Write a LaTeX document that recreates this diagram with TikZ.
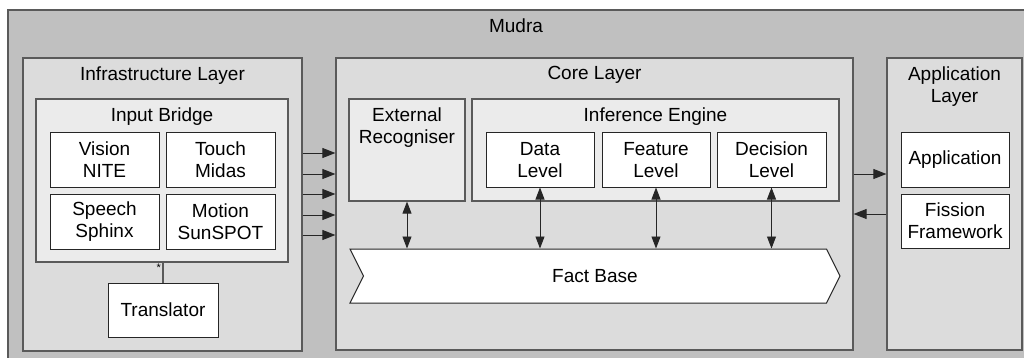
\documentclass[tikz,border=0pt]{standalone}
\usepackage{fontspec}
\setmainfont{Liberation Sans}
\usetikzlibrary{positioning, arrows.meta, shapes.symbols}

\definecolor{mudragray}{HTML}{C0C0C0}
\definecolor{layergray}{HTML}{DCDCDC}
\definecolor{groupgray}{HTML}{EBEBEB}
\definecolor{edgegray}{HTML}{5A5A5A}

\tikzset{
  framebox/.style={draw=edgegray, line width=1.2pt, inner sep=0pt},
  layerbox/.style={framebox, fill=layergray},
  groupbox/.style={framebox, fill=groupgray},
  leafbox/.style={draw=black!85, line width=1pt, fill=white, align=center, inner sep=0pt},
  titletext/.style={inner sep=3pt, align=center},
  flow/.style={line width=0.9pt, draw=black!85, -{Triangle[length=13pt,width=10pt]}},
  sync/.style={line width=0.9pt, draw=black!85, {Triangle[length=12pt,width=9pt]}-{Triangle[length=12pt,width=9pt]}},
}

\begin{document}
\begin{tikzpicture}[x=1pt, y=-1pt, font=\fontsize{19}{22}\selectfont]
    \useasboundingbox (0,0) rectangle (1024,358);

    % 1. Mudra background (runs off the right and bottom edge)
    \fill[mudragray] (8,10) rectangle (1024,358);
    \draw[edgegray, line width=1.2pt] (8,358) -- (8,10) -- (1024,10);
    \node[titletext] (mudra) at (516,26) {Mudra};

    % 2. Infrastructure layer
    \node[layerbox, minimum width=279, minimum height=293] (infra) at (162.5,204.5) {};
    \node[titletext, below=6pt of infra.north] (infratitle) {Infrastructure Layer};
    \node[groupbox, minimum width=252, minimum height=163] (bridge) at (162,180.5) {};
    \node[titletext, below=6pt of bridge.north] (bridgetitle) {Input Bridge};
    \node[leafbox, minimum width=109, minimum height=54] (vision) at (104.5,160) {Vision\\NITE};
    \node[leafbox, minimum width=109, minimum height=54] (touch) at (220.5,160) {Touch\\Midas};
    \node[leafbox, minimum width=109, minimum height=55] (speech) at (104.5,221.5) {Speech\\Sphinx};
    \node[leafbox, minimum width=109, minimum height=55] (motion) at (220.5,221.5) {Motion\\SunSPOT};
    \node[leafbox, minimum width=110, minimum height=54] (translator) at (163,310) {Translator};
    \draw[edgegray, line width=1.2pt] (bridge.south -| translator.north) -- (translator.north);
    \node[font=\fontsize{11}{11}\selectfont, inner sep=1pt, anchor=north east] (star)
        at ([xshift=-1pt]bridge.south -| translator.north) {*};

    % 3. Core layer
    \node[layerbox, minimum width=517, minimum height=292] (core) at (594.5,204) {};
    \node[titletext, below=6pt of core.north] (coretitle) {Core Layer};
    \node[groupbox, minimum width=116, minimum height=102] (extrec) at (407,150) {};
    \node[titletext, below=6pt of extrec.north] (extrectitle) {External\\Recogniser};
    \node[groupbox, minimum width=367, minimum height=102] (engine) at (655.5,150) {};
    \node[titletext, below=6pt of engine.north] (enginetitle) {Inference Engine};
    \node[leafbox, minimum width=108, minimum height=54] (data) at (540,160) {Data\\Level};
    \node[leafbox, minimum width=108, minimum height=54] (feature) at (656,160) {Feature\\Level};
    \node[leafbox, minimum width=109, minimum height=54] (decision) at (771.5,160) {Decision\\Level};
    \node[leafbox, signal, signal from=west, signal to=east, signal pointer angle=127,
          minimum width=490, minimum height=54] (fact) at (595,276) {Fact Base};

    % 4. Application layer
    \node[layerbox, minimum width=135, minimum height=292] (applayer) at (954.5,204) {};
    \node[titletext, below=6pt of applayer.north] (applayertitle) {Application\\Layer};
    \node[leafbox, minimum width=108, minimum height=54] (app) at (955,160) {Application};
    \node[leafbox, minimum width=108, minimum height=54] (fission) at (955,221) {Fission\\Framework};

    % 5. Connectors
    \foreach \y in {153,174,194,215,235} {
        \draw[flow] (infra.east |- 0,\y) -- (core.west |- 0,\y);
    }
    \draw[flow] (core.east |- 0,174) -- (applayer.west |- 0,174);
    \draw[flow] (applayer.west |- 0,214) -- (core.east |- 0,214);
    \foreach \src in {extrec,data,feature,decision} {
        \draw[sync] (\src.south) -- (\src.south |- fact.north);
    }

\end{tikzpicture}
\end{document}
